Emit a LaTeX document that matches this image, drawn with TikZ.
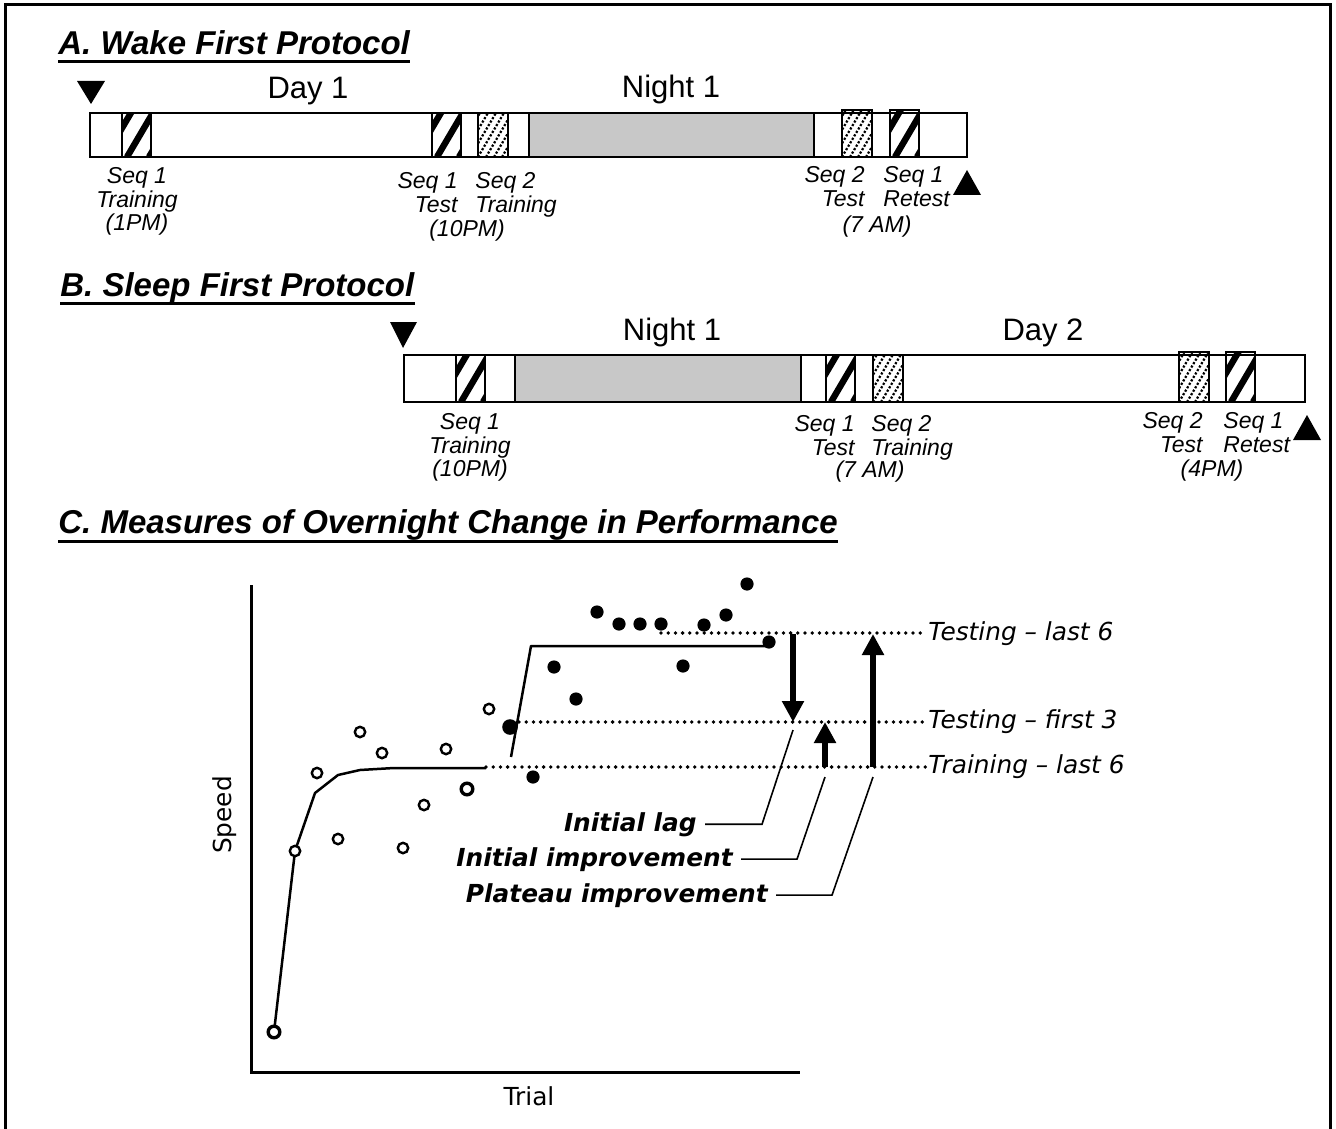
\documentclass[tikz,border=0pt]{standalone}
\usepackage{fontspec}
\setmainfont{Liberation Sans}
\newfontfamily\verdfont{DejaVu Sans}
\usepackage{tikz}
\usetikzlibrary{arrows.meta}
\definecolor{nightgray}{RGB}{200,200,200}

\begin{document}
\begin{tikzpicture}[x=0.5pt, y=-0.5pt,
  every node/.style={inner sep=0pt},
  heading/.style={font=\fontsize{16.5}{19}\selectfont\bfseries\itshape, anchor=base west},
  uline/.style={line width=1.5pt},
  period/.style={font=\fontsize{15.5}{18}\selectfont, anchor=base},
  seqlbl/.style={font=\fontsize{11.5}{11.75}\selectfont\itshape, anchor=north, align=center},
  bar/.style={draw, line width=1pt, fill=white},
  night/.style={draw, line width=1pt, fill=nightgray},
  seqbox/.style={draw, line width=1pt},
  stripe/.style={line width=3.2pt},
  finedots/.style={line width=1.1pt, dash pattern=on 1.1pt off 0.9pt},
  axis/.style={line width=1.5pt},
  curve/.style={line width=1.25pt, line join=round},
  gdots/.style={line width=1.9pt, line cap=round, dash pattern=on 0pt off 3.6pt},
  opendot/.style={line width=1.2pt, fill=white},
  bolddot/.style={line width=1.7pt, fill=white},
  gtext/.style={font=\verdfont\fontsize{12.4}{14}\selectfont},
  glabel/.style={font=\verdfont\fontsize{12.4}{14}\selectfont\itshape, anchor=base west},
  gbold/.style={font=\verdfont\fontsize{12.4}{14}\selectfont\bfseries\itshape, anchor=base east},
  bigarrow/.style={line width=2.6pt, -{Triangle[length=10.5pt, width=10.5pt]}},
  leader/.style={line width=0.8pt}
]
  \useasboundingbox (0,0) rectangle (1336,1128);
  \draw[line width=1.5pt] (5,5) rectangle (1330,1150);

  % A. wake first
  \node[heading] (headA) at (58,55) {A. Wake First Protocol};
  \draw[uline] ([yshift=-3.3pt]headA.base west) -- ([yshift=-3.3pt]headA.base east);
  \node[period] (day1) at (308,99) {Day 1};
  \node[period] (nightA) at (671,98) {Night 1};
  \draw[bar] (90,113) rectangle (967,157);
  \draw[night] (529,113) rectangle (814,157);
  \fill (77,81) -- (105,81) -- (91,104) -- cycle;
  \fill (953,195) -- (981,195) -- (967,170) -- cycle;

  % B. sleep first
  \node[heading] (headB) at (60,297) {B. Sleep First Protocol};
  \draw[uline] ([yshift=-3.3pt]headB.base west) -- ([yshift=-3.3pt]headB.base east);
  \node[period] (nightB) at (672,340) {Night 1};
  \node[period] (day2) at (1043,340) {Day 2};
  \draw[bar] (404,355) rectangle (1305,402);
  \draw[night] (515,355) rectangle (801,402);
  \fill (390,322) -- (417,322) -- (403,348) -- cycle;
  \fill (1293,440) -- (1321,440) -- (1307,415) -- cycle;

  \foreach \xa/\ya/\yb in {122/113/157,432/113/157,890/110/157,456/355/402,826/355/402,1226/352/402}{
    \begin{scope}
      \clip (\xa,\ya) rectangle ++(29,\yb-\ya);
      \foreach \o in {-39,-17,5,27}
        \draw[stripe] (\xa+\o,\yb) -- ++(30,-51);
    \end{scope}
    \draw[seqbox] (\xa,\ya) rectangle ++(29,\yb-\ya);
  }
  \foreach \xa/\ya/\yb in {478/113/157,842/110/157,873/355/402,1179/352/402}{
    \begin{scope}
      \clip (\xa,\ya) rectangle ++(30,\yb-\ya);
      \foreach \o in {-40,-32,...,32}
        \draw[finedots] (\xa+\o,\yb) -- ++(30,-51);
    \end{scope}
    \draw[seqbox] (\xa,\ya) rectangle ++(30,\yb-\ya);
  }

  \node[seqlbl] (lblA1) at (137,167.5) {Seq 1\\Training\\(1PM)};
  \node[seqlbl, anchor=north east, align=right] (lblA2a) at (458,172.5) {Seq 1\\Test};
  \node[seqlbl, anchor=north west, align=left] (lblA2b) at (475,172.5) {Seq 2\\Training};
  \node[seqlbl] (lblA2c) at (467,219.5) {(10PM)};
  \node[seqlbl, anchor=north east, align=right] (lblA3a) at (865,166.5) {Seq 2\\Test};
  \node[seqlbl, anchor=north west, align=left] (lblA3b) at (883,166.5) {Seq 1\\Retest};
  \node[seqlbl] (lblA3c) at (877,215.5) {(7 AM)};

  \node[seqlbl] (lblB1) at (470,413.5) {Seq 1\\Training\\(10PM)};
  \node[seqlbl, anchor=north east, align=right] (lblB2a) at (855,415.5) {Seq 1\\Test};
  \node[seqlbl, anchor=north west, align=left] (lblB2b) at (871,415.5) {Seq 2\\Training};
  \node[seqlbl] (lblB2c) at (870,460.5) {(7 AM)};
  \node[seqlbl, anchor=north east, align=right] (lblB3a) at (1203,412.5) {Seq 2\\Test};
  \node[seqlbl, anchor=north west, align=left] (lblB3b) at (1223,412.5) {Seq 1\\Retest};
  \node[seqlbl] (lblB3c) at (1212,459.5) {(4PM)};

  % C. measures
  \node[heading] (headC) at (58,533) {C. Measures of Overnight Change in Performance};
  \draw[uline] ([yshift=-4pt]headC.base west) -- ([yshift=-4pt]headC.base east);

  \draw[axis] (251,585) -- (251,1072) -- (800,1072);
  \node[gtext, rotate=90] (speed) at (225,815) {Speed};
  \node[gtext, anchor=base] (trial) at (529,1105) {Trial};

  \draw[curve] (274,1032) -- (295,851) -- (315,793) -- (338,775) -- (360,770) -- (394,768) -- (486,768);
  \draw[curve] (511,757) -- (531,646) -- (769,646);

  \draw[gdots] (661,633) -- (926,633);
  \draw[gdots] (519,722) -- (926,722);
  \draw[gdots] (486,767) -- (926,767);
  \node[glabel] (tlast) at (928,640) {Testing – last 6};
  \node[glabel] (tfirst) at (928,728) {Testing – first 3};
  \node[glabel] (trlast) at (928,773) {Training – last 6};

  \foreach \p in {(295,851),(317,773),(338,839),(360,732),(382,753),(403,848),(424,805),(446,749),(489,709)}
    \draw[opendot] \p circle[radius=2.6pt];
  \foreach \p in {(274,1032),(467,789)}
    \draw[bolddot] \p circle[radius=2.9pt];
  \foreach \p in {(533,777),(554,667),(576,699),(597,612),(619,624),(640,624),(661,624),(683,666),(704,625),(726,615),(747,584),(769,642)}
    \fill \p circle[radius=3.3pt];
  \fill (510,727) circle[radius=3.9pt];

  \coordinate (lagtop) at (793,634);
  \coordinate (lagtip) at (793,722);
  \coordinate (iibase) at (825,767);
  \coordinate (iitip) at (825,722);
  \coordinate (pibase) at (873,767);
  \coordinate (pitip) at (873,634);
  \draw[bigarrow] (lagtop) -- (lagtip);
  \draw[bigarrow] (iibase) -- (iitip);
  \draw[bigarrow] (pibase) -- (pitip);

  \node[gbold] (lag) at (697,831) {Initial lag};
  \node[gbold] (initimp) at (733,866) {Initial improvement};
  \node[gbold] (platimp) at (768,902) {Plateau improvement};
  \draw[leader] ([xshift=4pt]lag.east) -- ++(57,0) -- ([yshift=-4pt]lagtip);
  \draw[leader] ([xshift=4pt]initimp.east) -- ++(56,0) -- ([yshift=-5pt]iibase);
  \draw[leader] ([xshift=4pt]platimp.east) -- ++(56,0) -- ([yshift=-5pt]pibase);
\end{tikzpicture}
\end{document}
